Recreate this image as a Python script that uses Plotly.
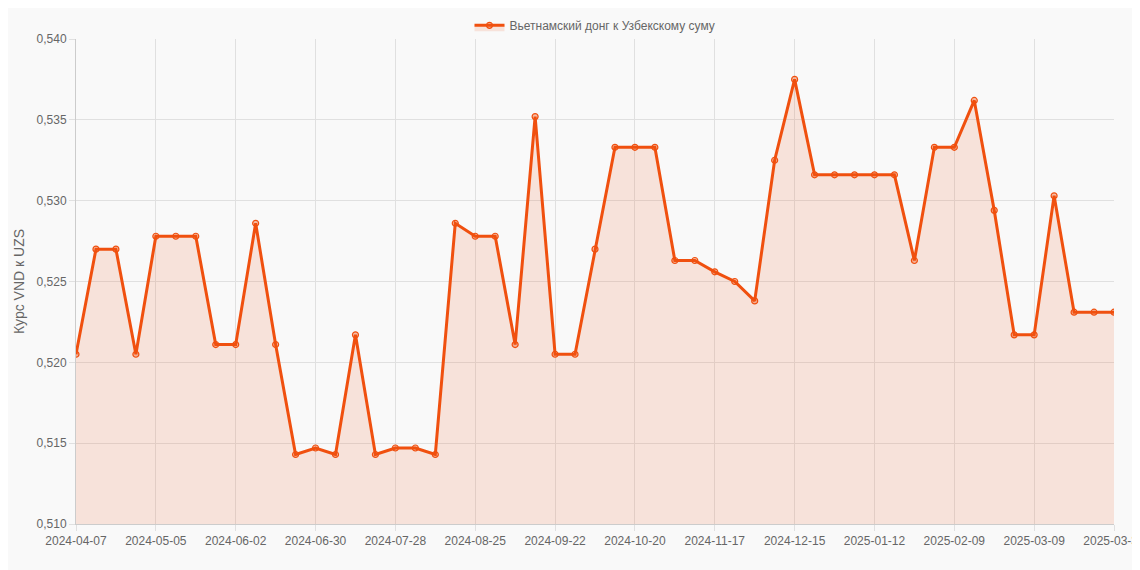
import plotly.graph_objects as go
import datetime as dt

start = dt.date(2024, 4, 7)
dates = [(start + dt.timedelta(weeks=i)).isoformat() for i in range(52)] + ["2025-03-31"]
values = [0.5205, 0.5270, 0.5270, 0.5205, 0.5278, 0.5278, 0.5278, 0.5211, 0.5211, 0.5286,
          0.5211, 0.5143, 0.5147, 0.5143, 0.5217, 0.5143, 0.5147, 0.5147, 0.5143, 0.5286,
          0.5278, 0.5278, 0.5211, 0.5352, 0.5205, 0.5205, 0.5270, 0.5333, 0.5333, 0.5333,
          0.5263, 0.5263, 0.5256, 0.5250, 0.5238, 0.5325, 0.5375, 0.5316, 0.5316, 0.5316,
          0.5316, 0.5316, 0.5263, 0.5333, 0.5333, 0.5362, 0.5294, 0.5217, 0.5217, 0.5303,
          0.5231, 0.5231, 0.5231]
series_name = "Вьетнамский донг к Узбекскому суму"
y_title = "Курс VND к UZS"

tickvals = dates[::4] + [dates[-1]]

fig = go.Figure(go.Scatter(
    x=dates, y=values, mode="lines+markers", name=series_name,
    line=dict(color="#f0500f", width=3),
    marker=dict(size=6, color="rgba(240,80,15,0.35)", line=dict(color="#f0500f", width=1.2)),
    fill="tozeroy", fillcolor="rgba(240,80,15,0.13)",
))
fig.update_layout(
    width=1140, height=570, separators=", ",
    paper_bgcolor="#f9f9f9", plot_bgcolor="#f9f9f9",
    font=dict(family="Liberation Sans, Arial, sans-serif", size=12, color="#666"),
    margin=dict(l=68, r=34, t=31, b=54, autoexpand=False),
    showlegend=True,
    legend=dict(orientation="h", x=0.5, xanchor="center", yref="container", y=0.995, yanchor="top",
                font=dict(size=12, color="#666"), bgcolor="rgba(0,0,0,0)"),
    xaxis=dict(type="category", tickvals=tickvals, tickangle=0, showgrid=True, automargin=False,
               gridcolor="#e0e0e0", linecolor="#ccc", ticks="outside", ticklen=6,
               tickcolor="#e0e0e0", range=[0, len(dates) - 1]),
    yaxis=dict(range=[0.510, 0.540], dtick=0.005, tickformat=".3f", showgrid=True, automargin=False,
               gridcolor="#e0e0e0", linecolor="#ccc", zeroline=False,
               title=dict(text=y_title, standoff=8), ticks="outside", ticklen=6,
               tickcolor="#e0e0e0"),
)
fig.write_html("out.html")
